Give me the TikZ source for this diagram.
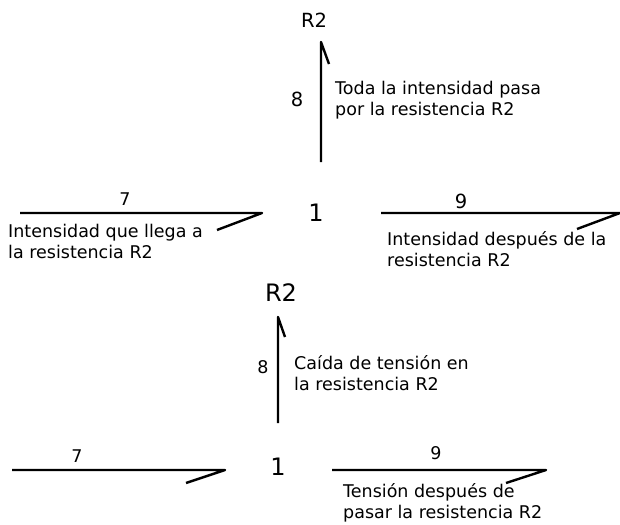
\documentclass[tikz,border=0pt]{standalone}
\usepackage{fontspec}
\setmainfont{DejaVu Sans}
\begin{document}
\begin{tikzpicture}[x=1pt,y=-1pt,
  wire/.style={line width=2.4pt, line join=round, line cap=butt},
  lbl/.style={inner sep=0pt, align=left, anchor=west, font=\fontsize{17.5}{21}\selectfont},
  numA/.style={inner sep=0pt, font=\fontsize{19.5}{22}\selectfont},
  numB/.style={inner sep=0pt, font=\fontsize{17.5}{20}\selectfont},
  big/.style={inner sep=0pt, font=\fontsize{24}{26}\selectfont}]
\useasboundingbox (0,0) rectangle (620,524);
% ---------- top diagram ----------
\node[numA] (r2a) at (314,20) {R2};
\coordinate (v1a) at (321,162);
\coordinate (v1b) at (321,42);
\coordinate (v1c) at (329,64);
\draw[wire] (v1a) -- (v1b) -- (v1c);
\node[numA] (n8a) at (297,99) {8};
\node[lbl] (ta) at (335,100) {Toda la intensidad pasa\\por la resistencia R2};

\node[numB] (n7a) at (125,199) {7};
\coordinate (h7a) at (20,213);
\coordinate (h7b) at (262,213);
\coordinate (h7c) at (217,230);
\draw[wire] (h7a) -- (h7b) -- (h7c);
\node[lbl] (tb) at (8,241) {Intensidad que llega a\\la resistencia R2};

\node[big] (n1a) at (316,213) {1};

\node[numA] (n9a) at (461,201) {9};
\coordinate (h9a) at (381,213);
\coordinate (h9b) at (620,213);
\coordinate (h9c) at (577,229);
\draw[wire] (h9a) -- (h9b) -- (h9c);
\node[lbl] (tc) at (387,249) {Intensidad después de la\\resistencia R2};

% ---------- bottom diagram ----------
\node[big] (r2b) at (281,293) {R2};
\coordinate (v2a) at (278,423);
\coordinate (v2b) at (278,317);
\coordinate (v2c) at (285,337);
\draw[wire] (v2a) -- (v2b) -- (v2c);
\node[numB] (n8b) at (263,367) {8};
\node[lbl] (td) at (294,373) {Caída de tensión en\\la resistencia R2};

\node[numB] (n7b) at (77,456) {7};
\coordinate (h7d) at (12,470);
\coordinate (h7e) at (225,470);
\coordinate (h7f) at (186,483);
\draw[wire] (h7d) -- (h7e) -- (h7f);

\node[big] (n1b) at (278,467) {1};

\node[numB] (n9b) at (436,453) {9};
\coordinate (h9d) at (332,470);
\coordinate (h9e) at (546,470);
\coordinate (h9f) at (506,483);
\draw[wire] (h9d) -- (h9e) -- (h9f);
\node[lbl] (te) at (343,503) {Tensión después de\\pasar la resistencia R2};
\end{tikzpicture}
\end{document}
